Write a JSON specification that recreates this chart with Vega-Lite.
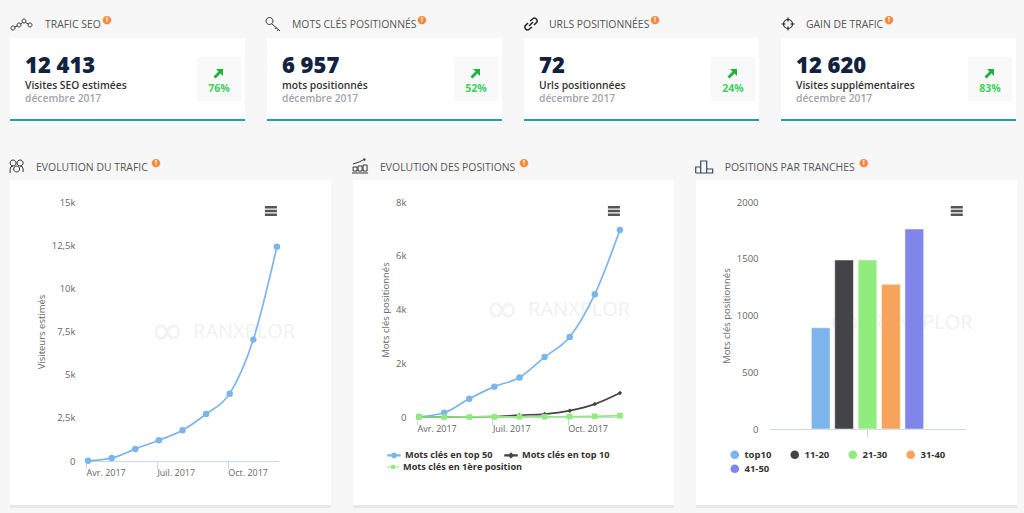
{"$schema":"https://vega.github.io/schema/vega-lite/v6.json","background":"#f7f7f7","padding":{"left":8,"top":14,"right":8,"bottom":6},"config":{"font":"Open Sans","view":{"stroke":null},"text":{"baseline":"middle"}},"bounds":"flush","spacing":142,"resolve":{"scale":{"color":"independent","shape":"independent","stroke":"independent"}},"vconcat":[
{"hconcat":[
{"width":235,"height":83,"view":{"fill":"white","stroke":null},"data":{"values":[{"titre":"TRAFIC SEO","chiffre":"12 413","libelle":"Visites SEO estimées","date":"décembre 2017","evolution":"76%"}]},"encoding":{"x":{"datum":"centre","type":"nominal","axis":null,"scale":{"type":"point","domain":["icone","centre"],"range":[12,209],"padding":0}},"y":{"datum":"centre","type":"nominal","axis":null,"scale":{"type":"point","domain":["icone","centre","filet"],"range":[-14,82],"padding":0}}},"layer":[
{"mark":{"type":"point","filled":true,"size":4,"color":"#f9f9f9","opacity":1,"shape":"M-22,-15H22V29H-22Z"}},
{"mark":{"type":"rule","color":"#26a09f","strokeWidth":2},"encoding":{"x":null,"y":{"datum":"filet","type":"nominal"}}},
{"mark":{"type":"point","size":4,"stroke":"#333","strokeWidth":1,"opacity":1,"shape":"M-11,4a2,2 0 1,0 4,0a2,2 0 1,0 -4,0M-5,1a2,2 0 1,0 4,0a2,2 0 1,0 -4,0M0,-3a2,2 0 1,0 4,0a2,2 0 1,0 -4,0M6,1a2,2 0 1,0 4,0a2,2 0 1,0 -4,0M-7.5,3L-4.5,2M-1.5,0L0.5,-1.5M3.5,-1.5L6.5,0"},"encoding":{"x":{"datum":"icone","type":"nominal"},"y":{"datum":"icone","type":"nominal"}}},
{"mark":{"type":"text","align":"left","dx":-174,"dy":-47,"fontSize":10.4,"color":"#555"},"encoding":{"text":{"field":"titre"}}},
{"mark":{"type":"text","align":"center","dx":-112,"dy":-52,"fontSize":11,"font":"DejaVu Sans","color":"#f58a3c","text":"●"}},
{"mark":{"type":"text","align":"center","dx":-112,"dy":-52,"fontSize":7,"fontWeight":"bold","color":"white","text":"!"}},
{"mark":{"type":"text","align":"left","dx":-194,"dy":-6,"fontSize":22,"fontWeight":800,"color":"#12233f"},"encoding":{"text":{"field":"chiffre"}}},
{"mark":{"type":"text","align":"left","dx":-194,"dy":14,"fontSize":10.3,"fontWeight":600,"color":"#333"},"encoding":{"text":{"field":"libelle"}}},
{"mark":{"type":"text","align":"left","dx":-194,"dy":27,"fontSize":10.3,"fontWeight":600,"color":"#a3a3ab"},"encoding":{"text":{"field":"date"}}},
{"mark":{"type":"point","filled":true,"size":4,"color":"#1fb141","opacity":1,"shape":"M-3,-3H4V4L1.5,1.5L-3.5,6.5L-5.5,4.5L-0.5,-0.5Z"}},
{"mark":{"type":"text","align":"center","dy":17,"fontSize":10.5,"fontWeight":700,"color":"#3ccf5f"},"encoding":{"text":{"field":"evolution"}}}
]},
{"width":235,"height":83,"view":{"fill":"white","stroke":null},"data":{"values":[{"titre":"MOTS CLÉS POSITIONNÉS","chiffre":"6 957","libelle":"mots positionnés","date":"décembre 2017","evolution":"52%"}]},"encoding":{"x":{"datum":"centre","type":"nominal","axis":null,"scale":{"type":"point","domain":["icone","centre"],"range":[6,209],"padding":0}},"y":{"datum":"centre","type":"nominal","axis":null,"scale":{"type":"point","domain":["icone","centre","filet"],"range":[-14,82],"padding":0}}},"layer":[
{"mark":{"type":"point","filled":true,"size":4,"color":"#f9f9f9","opacity":1,"shape":"M-22,-15H22V29H-22Z"}},
{"mark":{"type":"rule","color":"#26a09f","strokeWidth":2},"encoding":{"x":null,"y":{"datum":"filet","type":"nominal"}}},
{"mark":{"type":"point","size":4,"stroke":"#333","strokeWidth":1,"opacity":1,"shape":"M-7,-3a3.5,3.5 0 1,0 7,0a3.5,3.5 0 1,0 -7,0M-1,0L7,7M3,3.5L2,5M5,5.5L4,7"},"encoding":{"x":{"datum":"icone","type":"nominal"},"y":{"datum":"icone","type":"nominal"}}},
{"mark":{"type":"text","align":"left","dx":-184,"dy":-47,"fontSize":10.4,"color":"#555"},"encoding":{"text":{"field":"titre"}}},
{"mark":{"type":"text","align":"center","dx":-54,"dy":-52,"fontSize":11,"font":"DejaVu Sans","color":"#f58a3c","text":"●"}},
{"mark":{"type":"text","align":"center","dx":-54,"dy":-52,"fontSize":7,"fontWeight":"bold","color":"white","text":"!"}},
{"mark":{"type":"text","align":"left","dx":-194,"dy":-6,"fontSize":22,"fontWeight":800,"color":"#12233f"},"encoding":{"text":{"field":"chiffre"}}},
{"mark":{"type":"text","align":"left","dx":-194,"dy":14,"fontSize":10.3,"fontWeight":600,"color":"#333"},"encoding":{"text":{"field":"libelle"}}},
{"mark":{"type":"text","align":"left","dx":-194,"dy":27,"fontSize":10.3,"fontWeight":600,"color":"#a3a3ab"},"encoding":{"text":{"field":"date"}}},
{"mark":{"type":"point","filled":true,"size":4,"color":"#1fb141","opacity":1,"shape":"M-3,-3H4V4L1.5,1.5L-3.5,6.5L-5.5,4.5L-0.5,-0.5Z"}},
{"mark":{"type":"text","align":"center","dy":17,"fontSize":10.5,"fontWeight":700,"color":"#3ccf5f"},"encoding":{"text":{"field":"evolution"}}}
]},
{"width":235,"height":83,"view":{"fill":"white","stroke":null},"data":{"values":[{"titre":"URLS POSITIONNÉES","chiffre":"72","libelle":"Urls positionnées","date":"décembre 2017","evolution":"24%"}]},"encoding":{"x":{"datum":"centre","type":"nominal","axis":null,"scale":{"type":"point","domain":["icone","centre"],"range":[7,209],"padding":0}},"y":{"datum":"centre","type":"nominal","axis":null,"scale":{"type":"point","domain":["icone","centre","filet"],"range":[-14,82],"padding":0}}},"layer":[
{"mark":{"type":"point","filled":true,"size":4,"color":"#f9f9f9","opacity":1,"shape":"M-22,-15H22V29H-22Z"}},
{"mark":{"type":"rule","color":"#26a09f","strokeWidth":2},"encoding":{"x":null,"y":{"datum":"filet","type":"nominal"}}},
{"mark":{"type":"point","size":4,"stroke":"#222","strokeWidth":1.5,"opacity":1,"shape":"M-1,-3L3,-6A3,3 0 0 1 6,-2L3,1M1,3L-3,6A3,3 0 0 1 -6,2L-3,-1M-2,2L2,-2"},"encoding":{"x":{"datum":"icone","type":"nominal"},"y":{"datum":"icone","type":"nominal"}}},
{"mark":{"type":"text","align":"left","dx":-184,"dy":-47,"fontSize":10.4,"color":"#555"},"encoding":{"text":{"field":"titre"}}},
{"mark":{"type":"text","align":"center","dx":-78,"dy":-52,"fontSize":11,"font":"DejaVu Sans","color":"#f58a3c","text":"●"}},
{"mark":{"type":"text","align":"center","dx":-78,"dy":-52,"fontSize":7,"fontWeight":"bold","color":"white","text":"!"}},
{"mark":{"type":"text","align":"left","dx":-194,"dy":-6,"fontSize":22,"fontWeight":800,"color":"#12233f"},"encoding":{"text":{"field":"chiffre"}}},
{"mark":{"type":"text","align":"left","dx":-194,"dy":14,"fontSize":10.3,"fontWeight":600,"color":"#333"},"encoding":{"text":{"field":"libelle"}}},
{"mark":{"type":"text","align":"left","dx":-194,"dy":27,"fontSize":10.3,"fontWeight":600,"color":"#a3a3ab"},"encoding":{"text":{"field":"date"}}},
{"mark":{"type":"point","filled":true,"size":4,"color":"#1fb141","opacity":1,"shape":"M-3,-3H4V4L1.5,1.5L-3.5,6.5L-5.5,4.5L-0.5,-0.5Z"}},
{"mark":{"type":"text","align":"center","dy":17,"fontSize":10.5,"fontWeight":700,"color":"#3ccf5f"},"encoding":{"text":{"field":"evolution"}}}
]},
{"width":235,"height":83,"view":{"fill":"white","stroke":null},"data":{"values":[{"titre":"GAIN DE TRAFIC","chiffre":"12 620","libelle":"Visites supplémentaires","date":"décembre 2017","evolution":"83%"}]},"encoding":{"x":{"datum":"centre","type":"nominal","axis":null,"scale":{"type":"point","domain":["icone","centre"],"range":[7,209],"padding":0}},"y":{"datum":"centre","type":"nominal","axis":null,"scale":{"type":"point","domain":["icone","centre","filet"],"range":[-14,82],"padding":0}}},"layer":[
{"mark":{"type":"point","filled":true,"size":4,"color":"#f9f9f9","opacity":1,"shape":"M-22,-15H22V29H-22Z"}},
{"mark":{"type":"rule","color":"#26a09f","strokeWidth":2},"encoding":{"x":null,"y":{"datum":"filet","type":"nominal"}}},
{"mark":{"type":"point","size":4,"stroke":"#222","strokeWidth":1.2,"opacity":1,"shape":"M-4.5,0a4.5,4.5 0 1,0 9,0a4.5,4.5 0 1,0 -9,0M0,-6.5V-2.5M0,2.5V6.5M-6.5,0H-2.5M2.5,0H6.5"},"encoding":{"x":{"datum":"icone","type":"nominal"},"y":{"datum":"icone","type":"nominal"}}},
{"mark":{"type":"text","align":"left","dx":-184,"dy":-47,"fontSize":10.4,"color":"#555"},"encoding":{"text":{"field":"titre"}}},
{"mark":{"type":"text","align":"center","dx":-101,"dy":-52,"fontSize":11,"font":"DejaVu Sans","color":"#f58a3c","text":"●"}},
{"mark":{"type":"text","align":"center","dx":-101,"dy":-52,"fontSize":7,"fontWeight":"bold","color":"white","text":"!"}},
{"mark":{"type":"text","align":"left","dx":-194,"dy":-6,"fontSize":22,"fontWeight":800,"color":"#12233f"},"encoding":{"text":{"field":"chiffre"}}},
{"mark":{"type":"text","align":"left","dx":-194,"dy":14,"fontSize":10.3,"fontWeight":600,"color":"#333"},"encoding":{"text":{"field":"libelle"}}},
{"mark":{"type":"text","align":"left","dx":-194,"dy":27,"fontSize":10.3,"fontWeight":600,"color":"#a3a3ab"},"encoding":{"text":{"field":"date"}}},
{"mark":{"type":"point","filled":true,"size":4,"color":"#1fb141","opacity":1,"shape":"M-3,-3H4V4L1.5,1.5L-3.5,6.5L-5.5,4.5L-0.5,-0.5Z"}},
{"mark":{"type":"text","align":"center","dy":17,"fontSize":10.5,"fontWeight":700,"color":"#3ccf5f"},"encoding":{"text":{"field":"evolution"}}}
]}
],"bounds":"flush","spacing":22,"resolve":{"scale":{"color":"independent","shape":"independent","stroke":"independent"}}},
{"hconcat":[
{"width":321,"height":326,"view":{"fill":"white","stroke":null},
"layer":[
{"data":{"values":[{"marque":"∞"}]},"mark":{"type":"text","align":"center","dx":79,"fontSize":40,"font":"DejaVu Sans","color":"#f1f3f3"},"encoding":{"x":{"datum":"Avr. 2017","type":"nominal"},"y":{"datum":7500},"text":{"field":"marque"}}},
{"data":{"values":[{"marque":"RANXPLOR"}]},"mark":{"type":"text","align":"left","dx":105,"fontSize":20,"color":"#f1f1f1"},"encoding":{"x":{"datum":"Avr. 2017","type":"nominal"},"y":{"datum":7500},"text":{"field":"marque"}}},
{"data":{"values":[{"mois":"Avr. 2017","visiteurs":15},{"mois":"Mai 2017","visiteurs":170},{"mois":"Juin 2017","visiteurs":700},{"mois":"Juil. 2017","visiteurs":1200},{"mois":"Août 2017","visiteurs":1780},{"mois":"Sept. 2017","visiteurs":2720},{"mois":"Oct. 2017","visiteurs":3900},{"mois":"Nov. 2017","visiteurs":7030},{"mois":"Déc. 2017","visiteurs":12413}]},
"encoding":{"x":{"field":"mois","type":"nominal","sort":null,"title":null,"scale":{"type":"point","domain":["Avr. 2017","Mai 2017","Juin 2017","Juil. 2017","Août 2017","Sept. 2017","Oct. 2017","Nov. 2017","Déc. 2017"],"range":[76,269],"padding":0.089},"axis":{"values":["Avr. 2017","Juil. 2017","Oct. 2017"],"offset":-45,"tickOffset":-2,"domainColor":"#ccd6eb","tickColor":"#ccd6eb","tickSize":8,"labelAlign":"left","labelAngle":0,"labelPadding":3,"labelFontSize":9,"labelColor":"#666","grid":false,"labelOverlap":false}},
"y":{"field":"visiteurs","type":"quantitative","title":"Visiteurs estimés","scale":{"domain":[0,15000],"range":[281,22],"nice":false},"axis":{"values":[0,2500,5000,7500,10000,12500,15000],"offset":-76,"domain":false,"ticks":false,"labelPadding":11,"labelFontSize":9.5,"labelColor":"#666","titleFontSize":9.5,"titleFontWeight":400,"titleColor":"#666","titlePadding":5,"gridColor":"#e6e6ea","labelExpr":"datum.value==0?'0':replace(format(datum.value/1000,'.3~f'),'.',',')+'k'"}}},
"layer":[{"mark":{"type":"line","color":"#7cb5ec","strokeWidth":1.7,"interpolate":"monotone"}},{"mark":{"type":"point","filled":true,"size":42,"opacity":1,"color":"#7cb5ec"}}]},
{"data":{"values":[{"menu":"menu"}]},"mark":{"type":"point","filled":true,"size":4,"opacity":1,"color":"#555","shape":"M-12,4H0V6.4H-12ZM-12,7.8H0V10.2H-12ZM-12,11.6H0V14H-12Z"},"encoding":{"x":{"datum":"Déc. 2017","type":"nominal"},"y":{"datum":15000}}},
{"data":{"values":[{"bord":"bas"}]},"mark":{"type":"rule","color":"#e8e8e8","strokeWidth":3},"encoding":{"y":{"datum":-2635}}},
{"data":{"values":[{"titre":"EVOLUTION DU TRAFIC"}]},"mark":{"type":"text","align":"left","dx":-52,"dy":-34,"fontSize":10.4,"color":"#555"},"encoding":{"x":{"datum":"Avr. 2017","type":"nominal"},"y":{"datum":15000},"text":{"field":"titre"}}},
{"data":{"values":[{"icone":"équipe"}]},"mark":{"type":"point","size":4,"stroke":"#333","strokeWidth":1,"opacity":1,"shape":"M-78,-39a3,3 0 1,0 6,0a3,3 0 1,0 -6,0M-71,-39a3,3 0 1,0 6,0a3,3 0 1,0 -6,0M-74.5,-33a3,3 0 1,0 6,0a3,3 0 1,0 -6,0M-78,-29V-33Q-78,-36 -75,-36M-65,-30V-33Q-65,-36 -68,-36"},"encoding":{"x":{"datum":"Avr. 2017","type":"nominal"},"y":{"datum":15000}}},
{"data":{"values":[{"signe":"●"}]},"mark":{"type":"text","align":"center","dx":68,"dy":-39,"fontSize":11,"font":"DejaVu Sans","color":"#f58a3c"},"encoding":{"x":{"datum":"Avr. 2017","type":"nominal"},"y":{"datum":15000},"text":{"field":"signe"}}},
{"data":{"values":[{"signe":"!"}]},"mark":{"type":"text","align":"center","dx":68,"dy":-39,"fontSize":7,"fontWeight":"bold","color":"white"},"encoding":{"x":{"datum":"Avr. 2017","type":"nominal"},"y":{"datum":15000},"text":{"field":"signe"}}}
]},
{"width":321,"height":326,"view":{"fill":"white","stroke":null},
"layer":[
{"data":{"values":[{"marque":"∞"}]},"mark":{"type":"text","align":"center","dx":83,"fontSize":40,"font":"DejaVu Sans","color":"#f1f3f3"},"encoding":{"x":{"datum":"Avr. 2017","type":"nominal"},"y":{"datum":4000},"text":{"field":"marque"}}},
{"data":{"values":[{"marque":"RANXPLOR"}]},"mark":{"type":"text","align":"left","dx":109,"fontSize":20,"color":"#f1f1f1"},"encoding":{"x":{"datum":"Avr. 2017","type":"nominal"},"y":{"datum":4000},"text":{"field":"marque"}}},
{"data":{"values":[
{"mois":"Avr. 2017","serie":"Mots clés en top 50","mots":10},{"mois":"Mai 2017","serie":"Mots clés en top 50","mots":160},{"mois":"Juin 2017","serie":"Mots clés en top 50","mots":680},{"mois":"Juil. 2017","serie":"Mots clés en top 50","mots":1130},{"mois":"Août 2017","serie":"Mots clés en top 50","mots":1470},{"mois":"Sept. 2017","serie":"Mots clés en top 50","mots":2230},{"mois":"Oct. 2017","serie":"Mots clés en top 50","mots":2980},{"mois":"Nov. 2017","serie":"Mots clés en top 50","mots":4570},{"mois":"Déc. 2017","serie":"Mots clés en top 50","mots":6957},
{"mois":"Avr. 2017","serie":"Mots clés en top 10","mots":0},{"mois":"Mai 2017","serie":"Mots clés en top 10","mots":2},{"mois":"Juin 2017","serie":"Mots clés en top 10","mots":5},{"mois":"Juil. 2017","serie":"Mots clés en top 10","mots":12},{"mois":"Août 2017","serie":"Mots clés en top 10","mots":70},{"mois":"Sept. 2017","serie":"Mots clés en top 10","mots":110},{"mois":"Oct. 2017","serie":"Mots clés en top 10","mots":235},{"mois":"Nov. 2017","serie":"Mots clés en top 10","mots":480},{"mois":"Déc. 2017","serie":"Mots clés en top 10","mots":892},
{"mois":"Avr. 2017","serie":"Mots clés en 1ère position","mots":0},{"mois":"Mai 2017","serie":"Mots clés en 1ère position","mots":0},{"mois":"Juin 2017","serie":"Mots clés en 1ère position","mots":1},{"mois":"Juil. 2017","serie":"Mots clés en 1ère position","mots":5},{"mois":"Août 2017","serie":"Mots clés en 1ère position","mots":8},{"mois":"Sept. 2017","serie":"Mots clés en 1ère position","mots":10},{"mois":"Oct. 2017","serie":"Mots clés en 1ère position","mots":15},{"mois":"Nov. 2017","serie":"Mots clés en 1ère position","mots":25},{"mois":"Déc. 2017","serie":"Mots clés en 1ère position","mots":50}
]},"encoding":{"x":{"field":"mois","type":"nominal","sort":null,"title":null,"scale":{"type":"point","domain":["Avr. 2017","Mai 2017","Juin 2017","Juil. 2017","Août 2017","Sept. 2017","Oct. 2017","Nov. 2017","Déc. 2017"],"range":[64,269],"padding":0.083},"axis":{"values":["Avr. 2017","Juil. 2017","Oct. 2017"],"offset":-89,"tickOffset":-2,"domainColor":"#ccd6eb","tickColor":"#ccd6eb","tickSize":8,"labelAlign":"left","labelAngle":0,"labelPadding":3,"labelFontSize":9,"labelColor":"#666","grid":false,"labelOverlap":false}},
"y":{"field":"mots","type":"quantitative","title":"Mots clés positionnés","scale":{"domain":[0,8000],"range":[237,22],"nice":false},"axis":{"values":[0,2000,4000,6000,8000],"offset":-64,"domain":false,"ticks":false,"labelPadding":11,"labelFontSize":9.5,"labelColor":"#666","titleFontSize":9.5,"titleFontWeight":400,"titleColor":"#666","titlePadding":5,"gridColor":"#e6e6ea","labelExpr":"datum.value==0?'0':format(datum.value/1000,'.3~f')+'k'"}}},
"layer":[
{"transform":[{"filter":"datum.serie!='Mots clés en 1ère position'"}],"encoding":{"color":{"field":"serie","type":"nominal","sort":null,"scale":{"domain":["Mots clés en top 50","Mots clés en top 10"],"range":["#7cb5ec","#434348"]},"legend":{"title":null,"orient":"none","legendX":34,"legendY":268,"direction":"horizontal","columns":2,"columnPadding":9,"symbolSize":144,"labelFontSize":9.2,"labelFontWeight":"bold","labelColor":"#333","labelOffset":4,"encoding":{"symbols":{"shape":{"value":{"signal":"datum.value=='Mots clés en top 50'?'M-1,-0.07H1V0.07H-1ZM-0.36,0A0.36,0.36 0 1,0 0.36,0A0.36,0.36 0 1,0 -0.36,0Z':'M-1,-0.07H1V0.07H-1ZM0,-0.36L0.36,0L0,0.36L-0.36,0Z'"}},"fill":{"value":{"signal":"datum.value=='Mots clés en top 50'?'#7cb5ec':'#434348'"}},"stroke":{"value":"transparent"},"opacity":{"value":1}}}}}},"layer":[{"mark":{"type":"line","strokeWidth":1.7,"interpolate":"monotone"}},
{"transform":[{"filter":"datum.serie=='Mots clés en top 50'"}],"mark":{"type":"point","filled":true,"size":42,"opacity":1,"shape":"circle"}},
{"transform":[{"filter":"datum.serie=='Mots clés en top 10'"}],"mark":{"type":"point","filled":true,"size":20,"opacity":1,"shape":"diamond"}}]},
{"transform":[{"filter":"datum.serie=='Mots clés en 1ère position'"}],"layer":[{"mark":{"type":"line","strokeWidth":1.7,"interpolate":"monotone"},"encoding":{"stroke":{"field":"serie","type":"nominal","scale":{"domain":["Mots clés en 1ère position"],"range":["#90ed7d"]},"legend":{"title":null,"orient":"none","legendX":34,"legendY":281,"symbolSize":144,"symbolStrokeWidth":0,"labelFontSize":9.2,"labelFontWeight":"bold","labelColor":"#333","labelOffset":4,"encoding":{"symbols":{"shape":{"value":"M-1,-0.07H1V0.07H-1ZM-0.33,-0.33H0.33V0.33H-0.33Z"},"fill":{"value":"#90ed7d"},"opacity":{"value":1}}}}}}},
{"mark":{"type":"point","filled":true,"size":32,"opacity":1,"shape":"square","color":"#90ed7d"}}]}
]},
{"data":{"values":[{"menu":"menu"}]},"mark":{"type":"point","filled":true,"size":4,"opacity":1,"color":"#555","shape":"M-12,4H0V6.4H-12ZM-12,7.8H0V10.2H-12ZM-12,11.6H0V14H-12Z"},"encoding":{"x":{"datum":"Déc. 2017","type":"nominal"},"y":{"datum":8000}}},
{"data":{"values":[{"bord":"bas"}]},"mark":{"type":"rule","color":"#e8e8e8","strokeWidth":3},"encoding":{"y":{"datum":-3330}}},
{"data":{"values":[{"titre":"EVOLUTION DES POSITIONS"}]},"mark":{"type":"text","align":"left","dx":-39,"dy":-34,"fontSize":10.4,"color":"#555"},"encoding":{"x":{"datum":"Avr. 2017","type":"nominal"},"y":{"datum":8000},"text":{"field":"titre"}}},
{"data":{"values":[{"icone":"courbe"}]},"mark":{"type":"point","size":4,"stroke":"#333","strokeWidth":1,"opacity":1,"shape":"M-66,-31V-35H-62V-31H-66ZM-61,-31V-36H-57V-31H-61ZM-56,-31V-37H-52V-31H-56ZM-67,-29H-51M-66,-38L-60,-40L-54,-43M-54,-43L-56,-43M-54,-43L-54.5,-41"},"encoding":{"x":{"datum":"Avr. 2017","type":"nominal"},"y":{"datum":8000}}},
{"data":{"values":[{"signe":"●"}]},"mark":{"type":"text","align":"center","dx":105,"dy":-39,"fontSize":11,"font":"DejaVu Sans","color":"#f58a3c"},"encoding":{"x":{"datum":"Avr. 2017","type":"nominal"},"y":{"datum":8000},"text":{"field":"signe"}}},
{"data":{"values":[{"signe":"!"}]},"mark":{"type":"text","align":"center","dx":105,"dy":-39,"fontSize":7,"fontWeight":"bold","color":"white"},"encoding":{"x":{"datum":"Avr. 2017","type":"nominal"},"y":{"datum":8000},"text":{"field":"signe"}}}
]},
{"width":321,"height":326,"view":{"fill":"white","stroke":null},
"layer":[
{"data":{"values":[{"marque":"∞"}]},"mark":{"type":"text","align":"center","dx":24,"dy":7,"fontSize":40,"font":"DejaVu Sans","color":"#f1f3f3"},"encoding":{"x":{"datum":"top10","type":"nominal"},"y":{"datum":1000},"text":{"field":"marque"}}},
{"data":{"values":[{"marque":"RANXPLOR"}]},"mark":{"type":"text","align":"left","dx":50,"dy":7,"fontSize":20,"color":"#f1f1f1"},"encoding":{"x":{"datum":"top10","type":"nominal"},"y":{"datum":1000},"text":{"field":"marque"}}},
{"data":{"values":[{"tranche":"top10","mots":892},{"tranche":"11-20","mots":1489},{"tranche":"21-30","mots":1490},{"tranche":"31-40","mots":1275},{"tranche":"41-50","mots":1762}]},"mark":{"type":"bar","opacity":1,"stroke":"white","strokeWidth":0.5},"encoding":{"x":{"field":"tranche","type":"nominal","sort":null,"title":null,"scale":{"type":"band","domain":[" ","top10","11-20","21-30","31-40","41-50","  "],"range":[74,269],"paddingInner":0.2,"paddingOuter":0.767},"axis":{"values":["21-30"],"offset":-77,"labels":false,"domainColor":"#ccd6eb","tickColor":"#ccd6eb","tickSize":8,"grid":false}},
"y":{"field":"mots","type":"quantitative","title":"Mots clés positionnés","scale":{"domain":[0,2000],"range":[249,22],"nice":false},"axis":{"values":[0,500,1000,1500,2000],"format":"d","offset":-74,"domain":false,"ticks":false,"labelPadding":12,"labelFontSize":9.5,"labelColor":"#666","titleFontSize":9.5,"titleFontWeight":400,"titleColor":"#666","titlePadding":5,"gridColor":"#e6e6ea"}},
"color":{"field":"tranche","type":"nominal","sort":null,"scale":{"domain":["top10","11-20","21-30","31-40","41-50"],"range":["#7cb5ec","#434348","#90ed7d","#f7a35c","#8085e9"]},"legend":{"title":null,"orient":"none","legendX":34,"legendY":270,"direction":"horizontal","columns":4,"gridAlign":"none","columnPadding":18,"rowPadding":3,"symbolType":"circle","symbolSize":75,"symbolOpacity":1,"symbolStrokeWidth":0,"labelFontSize":9.5,"labelFontWeight":"bold","labelColor":"#333","labelOffset":5}}}},
{"data":{"values":[{"menu":"menu"}]},"mark":{"type":"point","filled":true,"size":4,"opacity":1,"color":"#555","shape":"M36.5,4H48.5V6.4H36.5ZM36.5,7.8H48.5V10.2H36.5ZM36.5,11.6H48.5V14H36.5Z"},"encoding":{"x":{"datum":"41-50","type":"nominal"},"y":{"datum":2000}}},
{"data":{"values":[{"bord":"bas"}]},"mark":{"type":"rule","color":"#e8e8e8","strokeWidth":3},"encoding":{"y":{"datum":-683}}},
{"data":{"values":[{"titre":"POSITIONS PAR TRANCHES"}]},"mark":{"type":"text","align":"left","dx":-96,"dy":-34,"fontSize":10.4,"color":"#555"},"encoding":{"x":{"datum":"top10","type":"nominal"},"y":{"datum":2000},"text":{"field":"titre"}}},
{"data":{"values":[{"icone":"barres"}]},"mark":{"type":"point","size":4,"stroke":"#33495f","strokeWidth":1.2,"opacity":1,"shape":"M-125,-29V-35H-120V-29M-120,-29V-41H-114V-29M-114,-29V-33H-108V-29ZM-125,-29H-108"},"encoding":{"x":{"datum":"top10","type":"nominal"},"y":{"datum":2000}}},
{"data":{"values":[{"signe":"●"}]},"mark":{"type":"text","align":"center","dx":43,"dy":-39,"fontSize":11,"font":"DejaVu Sans","color":"#f58a3c"},"encoding":{"x":{"datum":"top10","type":"nominal"},"y":{"datum":2000},"text":{"field":"signe"}}},
{"data":{"values":[{"signe":"!"}]},"mark":{"type":"text","align":"center","dx":43,"dy":-39,"fontSize":7,"fontWeight":"bold","color":"white"},"encoding":{"x":{"datum":"top10","type":"nominal"},"y":{"datum":2000},"text":{"field":"signe"}}}
]}
],"bounds":"flush","spacing":22,"resolve":{"scale":{"color":"independent","shape":"independent","stroke":"independent"}}}
]}
